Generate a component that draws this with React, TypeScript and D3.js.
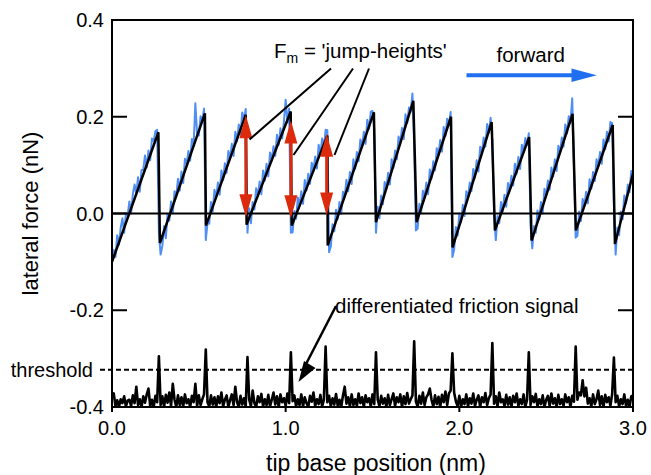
import React from "react";
import * as d3 from "d3";

// ---- data ----
const sampleStart = 0;
const sampleStep = 0.01; // nm between samples

// raw lateral force (blue), nN
const blueForce = [
  -0.100, -0.075, -0.090, -0.045, -0.065, -0.030, -0.010, -0.040, 0.000, -0.005,
  0.025, 0.000, 0.040, 0.060, 0.040, 0.075, 0.045, 0.090, 0.090, 0.120,
  0.095, 0.130, 0.110, 0.155, 0.150, 0.170, 0.173,
  -0.040, -0.085,
  -0.067, -0.026, -0.051, -0.001, -0.015, 0.025, 0.000, 0.046, 0.036,
  0.072, 0.047, 0.087, 0.063, 0.113, 0.103, 0.129, 0.109, 0.154, 0.140,
  0.228, 0.165, 0.161, 0.201, 0.191, 0.217,
  -0.055, -0.020,
  -0.021, 0.024, 0.004, 0.049, 0.034, 0.064, 0.039, 0.089, 0.069, 0.104,
  0.084, 0.129, 0.114, 0.144, 0.119, 0.169, 0.149, 0.184, 0.164, 0.209, 0.194, 0.216,
  -0.040,
  0.011, -0.020, 0.024, 0.008, 0.052, 0.037, 0.066, 0.040, 0.089, 0.068,
  0.103, 0.077, 0.126, 0.110, 0.139, 0.119, 0.163, 0.142, 0.176, 0.155,
  0.190, 0.235, 0.188, 0.217,
  -0.040,
  -0.039, 0.005, -0.011, 0.033, 0.017, 0.046, 0.020, 0.069, 0.048, 0.082,
  0.061, 0.105, 0.089, 0.118, 0.093, 0.142, 0.121, 0.155, 0.134, 0.173, 0.172,
  -0.080,
  -0.068, -0.022, -0.037, 0.008, -0.011, 0.024, -0.001, 0.045, 0.035, 0.070,
  0.046, 0.086, 0.061, 0.112, 0.092, 0.127, 0.108, 0.153, 0.138, 0.169,
  0.144, 0.194, 0.175, 0.210, 0.212,
  0.175, -0.040,
  0.014, -0.010, 0.037, 0.019, 0.065, 0.052, 0.084, 0.060, 0.112, 0.094,
  0.130, 0.112, 0.159, 0.146, 0.177, 0.154, 0.205, 0.187, 0.219, 0.210, 0.248,
  0.140, -0.035,
  -0.031, 0.020, 0.001, 0.047, 0.033, 0.064, 0.040, 0.091, 0.072, 0.108,
  0.089, 0.135, 0.121, 0.152, 0.128, 0.179, 0.160, 0.196, 0.182, 0.210,
  -0.090,
  -0.075, -0.028, -0.046, 0.000, -0.018, 0.018, -0.005, 0.046, 0.033, 0.064,
  0.046, 0.092, 0.074, 0.110, 0.087, 0.138, 0.125, 0.157, 0.138, 0.185, 0.166, 0.198,
  0.150, 0.000, -0.055,
  -0.005, -0.020, 0.024, 0.004, 0.039, 0.014, 0.063, 0.048, 0.078, 0.058,
  0.103, 0.082, 0.117, 0.092, 0.142, 0.127, 0.156, 0.141, 0.166,
  -0.025,
  -0.072, -0.026, -0.040, 0.006, -0.012, 0.024, 0.000, 0.051, 0.037, 0.068,
  0.049, 0.095, 0.076, 0.112, 0.088, 0.140, 0.126, 0.157, 0.138, 0.184, 0.165, 0.201, 0.187, 0.238,
  0.100, -0.050,
  -0.046, 0.004, -0.016, 0.030, 0.015, 0.045, 0.021, 0.071, 0.051, 0.086,
  0.067, 0.112, 0.097, 0.127, 0.103, 0.153, 0.133, 0.169, 0.149, 0.189, 0.187,
  0.020, -0.085,
  -0.029, -0.045, 0.004, -0.012, 0.037, 0.021, 0.060, 0.044, 0.088, 0.077,
];

// fitted sawtooth (black) vertices
const sawX = [0, 0.267, 0.276, 0.535, 0.541, 0.770, 0.775, 1.029, 1.035, 1.240, 1.242, 1.508, 1.520,
  1.735, 1.754, 1.952, 1.961, 2.186, 2.205, 2.402, 2.416, 2.652, 2.671, 2.883, 2.896, 3.0];
const sawY = [-0.100, 0.168, -0.061, 0.207, -0.025, 0.204, -0.023, 0.211, -0.025, 0.161, -0.066, 0.209, -0.018,
  0.233, -0.018, 0.200, -0.070, 0.189, -0.035, 0.158, -0.056, 0.206, -0.035, 0.183, -0.063, 0.082];

// differentiated friction signal (offset, drawn near bottom)
const diffSignal = [
  -0.378, -0.372, -0.398, -0.386, -0.400, -0.384, -0.392, -0.378, -0.399, -0.387,
  -0.385, -0.398, -0.376, -0.392, -0.358, -0.396, -0.384, -0.400, -0.378, -0.391,
  -0.374, -0.362, -0.398, -0.385, -0.400, -0.377, -0.390, -0.295, -0.396, -0.378,
  -0.399, -0.375, -0.391, -0.370, -0.398, -0.352, -0.385, -0.400, -0.376, -0.396,
  -0.380, -0.399, -0.374, -0.392, -0.384, -0.400, -0.377, -0.390, -0.352, -0.398,
  -0.376, -0.396, -0.384, -0.374, -0.281, -0.390, -0.399, -0.376, -0.395, -0.380,
  -0.400, -0.378, -0.392, -0.370, -0.399, -0.385, -0.376, -0.400, -0.386, -0.374,
  -0.396, -0.358, -0.390, -0.400, -0.377, -0.395, -0.382, -0.399, -0.297, -0.385,
  -0.398, -0.366, -0.392, -0.400, -0.378, -0.390, -0.373, -0.399, -0.384, -0.396,
  -0.375, -0.399, -0.385, -0.370, -0.395, -0.378, -0.400, -0.374, -0.390, -0.382,
  -0.398, -0.372, -0.392, -0.287, -0.388, -0.376, -0.399, -0.384, -0.396, -0.374,
  -0.399, -0.380, -0.392, -0.400, -0.377, -0.389, -0.370, -0.398, -0.384, -0.394,
  -0.375, -0.399, -0.385, -0.275, -0.390, -0.377, -0.399, -0.382, -0.395, -0.373,
  -0.398, -0.385, -0.400, -0.376, -0.358, -0.393, -0.380, -0.399, -0.374, -0.396,
  -0.384, -0.398, -0.372, -0.392, -0.380, -0.400, -0.376, -0.390, -0.382, -0.399,
  -0.374, -0.394, -0.287, -0.385, -0.398, -0.377, -0.393, -0.382, -0.400, -0.375,
  -0.396, -0.384, -0.372, -0.398, -0.380, -0.390, -0.374, -0.400, -0.378, -0.394,
  -0.371, -0.393, -0.384, -0.376, -0.264, -0.389, -0.399, -0.377, -0.393, -0.370,
  -0.396, -0.380, -0.374, -0.362, -0.385, -0.399, -0.376, -0.394, -0.379, -0.400,
  -0.375, -0.390, -0.368, -0.396, -0.372, -0.366, -0.289, -0.370, -0.388, -0.398,
  -0.377, -0.400, -0.384, -0.394, -0.374, -0.399, -0.382, -0.393, -0.372, -0.398,
  -0.385, -0.376, -0.400, -0.380, -0.390, -0.371, -0.396, -0.382, -0.374, -0.268,
  -0.393, -0.378, -0.399, -0.370, -0.390, -0.384, -0.398, -0.375, -0.395, -0.380,
  -0.400, -0.377, -0.390, -0.372, -0.398, -0.384, -0.394, -0.374, -0.400, -0.385,
  -0.287, -0.396, -0.378, -0.390, -0.373, -0.399, -0.384, -0.394, -0.376, -0.400,
  -0.385, -0.377, -0.398, -0.372, -0.393, -0.382, -0.400, -0.375, -0.394, -0.384,
  -0.398, -0.374, -0.390, -0.380, -0.400, -0.377, -0.389, -0.275, -0.385, -0.370,
  -0.376, -0.345, -0.378, -0.360, -0.393, -0.382, -0.399, -0.374, -0.394, -0.384,
  -0.366, -0.396, -0.378, -0.400, -0.375, -0.390, -0.380, -0.398, -0.373, -0.298,
  -0.390, -0.377, -0.399, -0.384, -0.394, -0.374, -0.398, -0.385, -0.400, -0.378,
  -0.376,
];

const thresholdValue = -0.323;

// jump-height arrows
const jumpX = [0.771, 1.030, 1.236];
const jumpTop = [0.203, 0.192, 0.165];
const jumpBottom = [-0.008, -0.010, -0.004];

const xTicks = [0, 1, 2, 3];
const xTickLabels = ["0.0", "1.0", "2.0", "3.0"];
const yTicks = [0.4, 0.2, 0.0, -0.2, -0.4];
const yTickLabels = ["0.4", "0.2", "0.0", "-0.2", "-0.4"];

const FONT = "'Liberation Sans', Arial, Helvetica, sans-serif";

export default function App() {
  const W = 651, H = 475;
  const x = d3.scaleLinear().domain([0, 3]).range([112, 633]);
  const y = d3.scaleLinear().domain([-0.4, 0.4]).range([407, 20]);

  const blueLine = d3.line<number>()
    .x((_, i) => x(sampleStart + i * sampleStep))
    .y((d) => y(d))(blueForce) as string;

  const sawLine = d3.line<number>()
    .x((d) => x(d))
    .y((_, i) => y(sawY[i]))(sawX) as string;

  const diffLine = d3.line<number>()
    .x((_, i) => x(sampleStart + i * sampleStep))
    .y((d) => y(d))(diffSignal) as string;

  const red = "#dc2a0c";
  const headL = 23, headW = 6.5;

  const [x0, x1] = x.range();
  const [yb, yt] = y.range();

  return (
    <svg width={W} height={H} style={{ position: "absolute", left: 0, top: 0, background: "#fff" }}
      fontFamily={FONT}>
      <defs>
        <clipPath id="plotclip">
          <rect x={x0} y={yt} width={x1 - x0} height={yb - yt} />
        </clipPath>
      </defs>

      {/* data */}
      <g clipPath="url(#plotclip)">
        <path d={blueLine} fill="none" stroke="#4f8ef5" strokeWidth={2} strokeLinejoin="round" />
        <line x1={x0} x2={x1} y1={y(0)} y2={y(0)} stroke="#000" strokeWidth={2} />
        <path d={sawLine} fill="none" stroke="#000" strokeWidth={2.5} strokeLinejoin="miter" />
        <path d={diffLine} fill="none" stroke="#000" strokeWidth={2.6} strokeLinejoin="round" />
      </g>

      {/* threshold */}
      <line x1={100} x2={x1} y1={y(thresholdValue)} y2={y(thresholdValue)}
        stroke="#000" strokeWidth={2} strokeDasharray="5,3" />
      <text x={93} y={y(thresholdValue)} dy="0.35em" textAnchor="end" fontSize={20}>threshold</text>

      {/* red jump arrows */}
      {jumpX.map((jx, i) => {
        const cx = x(jx), ty = y(jumpTop[i]), by = y(jumpBottom[i]);
        return (
          <g key={i} fill={red}>
            <line x1={cx} x2={cx} y1={ty + headL - 2} y2={by - headL + 2} stroke={red} strokeWidth={3} />
            <polygon points={`${cx},${ty} ${cx - headW},${ty + headL} ${cx + headW},${ty + headL}`} />
            <polygon points={`${cx},${by} ${cx - headW},${by - headL} ${cx + headW},${by - headL}`} />
          </g>
        );
      })}

      {/* callout lines for jump heights */}
      <g stroke="#000" strokeWidth={2}>
        <line x1={331} y1={68.5} x2={249.5} y2={139.5} />
        <line x1={353} y1={68.5} x2={293.5} y2={155} />
        <line x1={369} y1={68.5} x2={334.5} y2={155} />
      </g>
      <text x={274} y={58} fontSize={20.5}>
        F<tspan fontSize={14} dy={5}>m</tspan><tspan dy={-5}> = 'jump-heights'</tspan>
      </text>

      {/* forward arrow */}
      <text x={496.5} y={61.5} fontSize={20.5}>forward</text>
      <line x1={466.5} x2={575} y1={75.3} y2={75.3} stroke="#1f6ff0" strokeWidth={4} />
      <polygon points={`596.7,75.3 571.5,68.6 571.5,82`} fill="#1f6ff0" />

      {/* differentiated friction signal label + arrow */}
      <text x={335} y={313} fontSize={20.5}>differentiated friction signal</text>
      <line x1={336} y1={306} x2={305} y2={366} stroke="#000" strokeWidth={2.5} />
      <polygon points={`298.5,382 304,361 315.5,368`} fill="#000" />

      {/* frame */}
      <rect x={x0} y={yt} width={x1 - x0} height={yb - yt} fill="none" stroke="#000" strokeWidth={2} />

      {/* y ticks */}
      {yTicks.map((t, i) => (
        <g key={"y" + i}>
          <line x1={x0} x2={x0 + 15} y1={y(t)} y2={y(t)} stroke="#000" strokeWidth={2} />
          <line x1={x1 - 15} x2={x1} y1={y(t)} y2={y(t)} stroke="#000" strokeWidth={2} />
          <text x={104} y={y(t)} dy="0.36em" textAnchor="end" fontSize={20}>{yTickLabels[i]}</text>
        </g>
      ))}
      {/* x ticks */}
      {xTicks.map((t, i) => (
        <g key={"x" + i}>
          <line x1={x(t)} x2={x(t)} y1={yb} y2={yb + 5} stroke="#000" strokeWidth={2} />
          <text x={x(t)} y={435} textAnchor="middle" fontSize={20}>{xTickLabels[i]}</text>
        </g>
      ))}

      {/* axis titles */}
      <text x={376} y={471} textAnchor="middle" fontSize={23}>tip base position (nm)</text>
      <text transform={`translate(37.5, ${y(0)}) rotate(-90)`} textAnchor="middle" fontSize={22}>lateral force (nN)</text>
    </svg>
  );
}
